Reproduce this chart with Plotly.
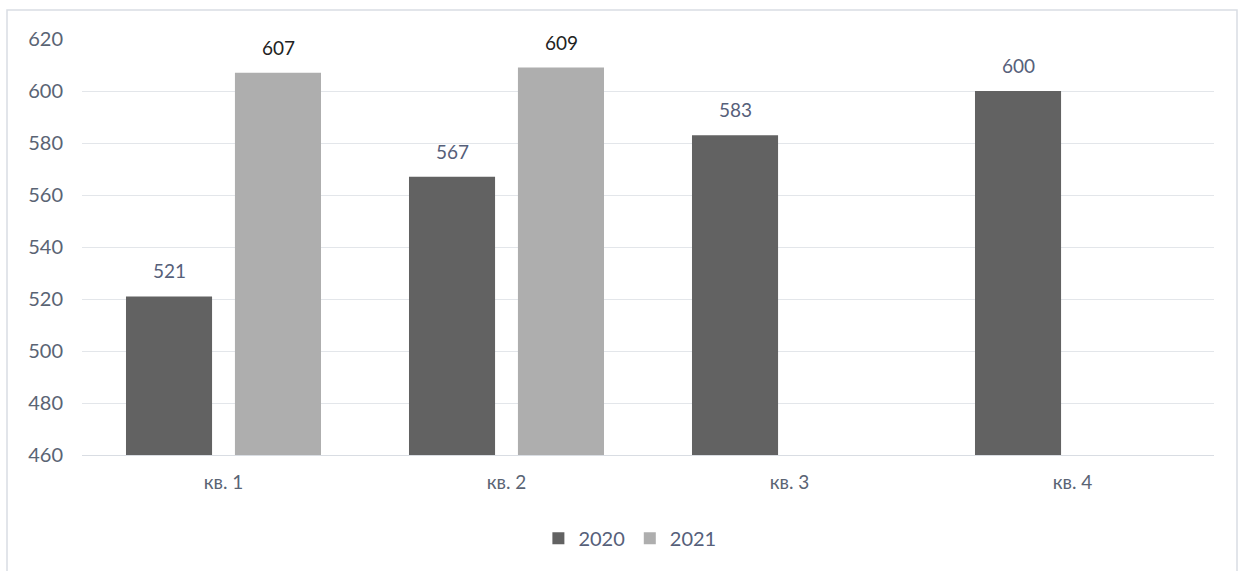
import plotly.graph_objects as go

categories = ["кв. 1", "кв. 2", "кв. 3", "кв. 4"]
values_2020 = [521, 567, 583, 600]
values_2021 = [607, 609, None, None]
series_names = ["2020", "2021"]
y_ticks = [460, 480, 500, 520, 540, 560, 580, 600, 620]

FONT = "Lato"
W, H = 1239, 571
ML, MR, MT, MB = 82, 25, 39, 116
BAR_OFFSET = 54.5  # px offset of each bar from category centre

fig = go.Figure()
fig.add_trace(go.Bar(
    x=categories, y=values_2020, name=series_names[0],
    marker=dict(color="#626262", line=dict(width=0)),
))
fig.add_trace(go.Bar(
    x=categories, y=values_2021, name=series_names[1],
    marker=dict(color="#aeaeae", line=dict(width=0)),
))

for cat, v in zip(categories, values_2020):
    if v is not None:
        fig.add_annotation(x=cat, y=v, text=str(v), showarrow=False, xshift=-BAR_OFFSET,
                           yanchor="bottom", yshift=12,
                           font=dict(family=FONT, size=19, color="#56607a"))
for cat, v in zip(categories, values_2021):
    if v is not None:
        fig.add_annotation(x=cat, y=v, text=str(v), showarrow=False, xshift=BAR_OFFSET,
                           yanchor="bottom", yshift=12,
                           font=dict(family=FONT, size=19, color="#222222"))

pw = W - ML - MR
ph = H - MT - MB
fig.add_shape(type="rect", xref="paper", yref="paper",
              x0=(7 - ML) / pw, x1=(1237 - ML) / pw,
              y0=-2, y1=(H - MB - 10) / ph,
              line=dict(color="#d9dde3", width=1.5), fillcolor="rgba(0,0,0,0)", layer="below")

fig.update_layout(
    width=W, height=H,
    margin=dict(l=ML, r=MR, t=MT, b=MB),
    paper_bgcolor="white", plot_bgcolor="white",
    barmode="group", bargap=0.23, bargroupgap=0.21,
    font=dict(family=FONT, color="#5a6474"),
    showlegend=True,
    legend=dict(orientation="h", x=0.484, xanchor="center", y=-0.2, yanchor="middle",
                font=dict(family=FONT, size=20, color="#56607a"),
                itemwidth=30, traceorder="normal"),
    xaxis=dict(showgrid=False, showline=True, linecolor="#d9dde3", linewidth=1,
               tickfont=dict(family=FONT, size=19, color="#5a6474"), ticks="", ticklabelstandoff=10),
    yaxis=dict(range=[460, 620], tickvals=y_ticks, showgrid=True, gridcolor="#e3e6ea", gridwidth=1,
               zeroline=False, showline=False,
               tickfont=dict(family=FONT, size=20, color="#5a6474"), ticks="", ticklabelstandoff=18),
)

fig.write_html("out.html")
